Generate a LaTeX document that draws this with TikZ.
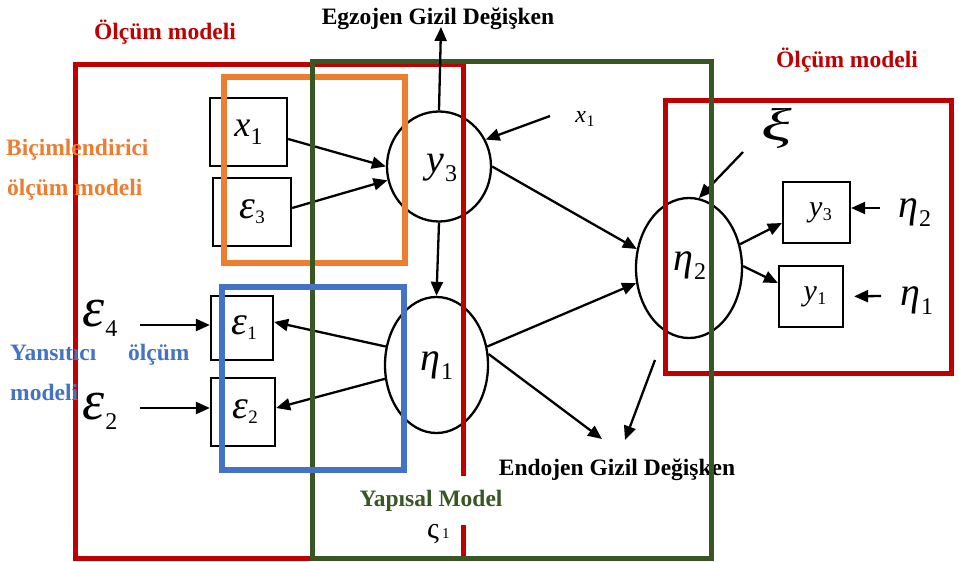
\documentclass[tikz,border=0pt]{standalone}
\usepackage{fontspec}
\usepackage{graphicx}
\setmainfont{Liberation Serif}
\usetikzlibrary{arrows.meta,shapes.geometric}

\definecolor{mred}{HTML}{C00000}
\definecolor{mgreen}{HTML}{385723}
\definecolor{morange}{HTML}{ED7D31}
\definecolor{mblue}{HTML}{4472C4}

% italic symbol with an upright, lowered subscript:
% #1 base size, #2 subscript size, #3 symbol, #4 subscript, #5 drop
\newcommand\symlab[5]{{\fontsize{#1}{#1}\selectfont\textit{#3}}\kern0.5pt\raisebox{-#5}{\fontsize{#2}{#2}\selectfont #4}}

\begin{document}
\begin{tikzpicture}[x=1pt,y=-1pt,
  obsbox/.style={draw, rectangle, line width=2.3pt, inner sep=0pt},
  latent/.style={draw, ellipse, line width=2.3pt, inner sep=0pt},
  arr/.style={-{Triangle[length=14pt,width=12pt]}, line width=2.3pt},
  frame/.style={line width=5pt},
  thickframe/.style={line width=6pt},
  title/.style={font=\fontsize{23.5}{28}\selectfont\bfseries, inner sep=0pt},
  sym/.style={inner sep=0pt}]
\useasboundingbox (0,0) rectangle (959,562);

% latent variables
\node[latent, minimum width=104pt, minimum height=110pt] (y3) at (439,166.5) {};
\node[latent, minimum width=103pt, minimum height=136pt] (eta1) at (436.5,365) {};
\node[latent, minimum width=106pt, minimum height=140pt] (eta2) at (689,268) {};
\node[sym] at (442,168) {\symlab{40pt}{24pt}{y}{3}{9pt}};
\node[sym] at (437,366) {\symlab{40pt}{24pt}{η}{1}{9pt}};
\node[sym] at (690,266) {\symlab{40pt}{24pt}{η}{2}{9pt}};

% observed indicators
\node[obsbox, minimum width=77pt, minimum height=68pt] (x1box) at (248.5,132) {\symlab{36pt}{24pt}{x}{1}{8pt}};
\node[obsbox, minimum width=78pt, minimum height=68pt] (e3box) at (252,212) {\symlab{40pt}{19pt}{ε}{3}{5pt}};
\node[obsbox, minimum width=62pt, minimum height=64pt] (e1box) at (242,328) {\hspace*{4pt}\symlab{40pt}{19pt}{ε}{1}{5pt}};
\node[obsbox, minimum width=64pt, minimum height=68pt] (e2box) at (243,412) {\hspace*{4pt}\symlab{40pt}{19pt}{ε}{2}{5pt}};
\node[obsbox, minimum width=67pt, minimum height=61pt] (y3box) at (816.5,212.5) {\hspace*{8pt}\symlab{30pt}{18pt}{y}{3}{4pt}};
\node[obsbox, minimum width=64pt, minimum height=61pt] (y1box) at (811,296.5) {\hspace*{8pt}\symlab{30pt}{18pt}{y}{1}{4pt}};

% error and exogenous symbols
\node[sym] (x1lab) at (585,119) {\symlab{24pt}{16pt}{x}{1}{4pt}};
\node[sym] (xilab) at (777,128) {\scalebox{1.55}[1]{\fontsize{46pt}{46pt}\selectfont\textit{ξ}}};
\node[sym] (eps4lab) at (100,318) {\symlab{56pt}{24pt}{ε}{4}{10pt}};
\node[sym] (eps2lab) at (100,411) {\symlab{56pt}{24pt}{ε}{2}{10pt}};
\node[sym] (eta2lab) at (915,213) {\symlab{40pt}{24pt}{η}{2}{9pt}};
\node[sym] (eta1lab) at (917,301) {\symlab{40pt}{24pt}{η}{1}{9pt}};

% free ends of connectors
\coordinate (egz) at (441,27);
\coordinate (x1src) at (550,116);
\coordinate (e4src) at (140,325);
\coordinate (e2src) at (140,408);
\coordinate (endoA) at (602,439);
\coordinate (endoSrc) at (655,360);
\coordinate (endoB) at (625,440);
\coordinate (xisrc) at (743,152);
\coordinate (eta2src) at (880,208);
\coordinate (eta1src) at (881,296);

% paths
\draw[arr] ([yshift=-7pt]x1box.east) -- (y3.west);
\draw[arr] ([yshift=4pt]e3box.east) -- (y3.195);
\draw[arr] (x1src) -- (y3.30);
\draw[arr] (y3.east) -- (eta2.160);
\draw[arr] (y3.south) -- (eta1.north);
\draw[arr] (eta1.160) -- ([yshift=6pt]e1box.east);
\draw[arr] (eta1.195) -- ([yshift=4pt]e2box.east);
\draw[arr] (e4src) -- ([yshift=3pt]e1box.west);
\draw[arr] (e2src) -- ([yshift=4pt]e2box.west);
\draw[arr] (eta1.20) -- (eta2.196);
\draw[arr] (eta1.12) -- (endoA);
\draw[arr] (endoSrc) -- (endoB);
\draw[arr] (xisrc) -- (eta2.82);
\draw[arr] (eta2.25) -- ([yshift=-10.5pt]y3box.west);
\draw[arr] (eta2.2) -- ([yshift=13.5pt]y1box.west);
\draw[arr] (eta2src) -- ([yshift=4.5pt]y3box.east);
\draw[arr, shorten >=10pt] (eta1src) -- (y1box.east);

% measurement model frames
\draw[frame, mred] (75,64.5) rectangle (463,558);
\draw[frame, mred] (665.5,100.5) rectangle (951,373.5);
\draw[thickframe, morange] (223.5,76.5) rectangle (405,262.5);

\node[title, anchor=base] (endo) at (617,475) {Endojen Gizil Değişken};

% structural model frame
\draw[frame, mgreen] (312.5,61) rectangle (711.5,558);
\draw[thickframe, mblue] (221.5,286.5) rectangle (403.5,469.5);

\draw[arr] (y3.north) -- (egz);

% titles
\node[title, anchor=base, text=mred] (omL) at (165,39) {Ölçüm modeli};
\node[title, anchor=base, text=mred] (omR) at (847,67) {Ölçüm modeli};
\node[title, anchor=base] (egzlab) at (438,24) {Egzojen Gizil Değişken};
\node[title, anchor=base west, text=morange] (bic1) at (6,155) {Biçimlendirici};
\node[title, anchor=base west, text=morange] (bic2) at (7,195) {ölçüm modeli};
\node[title, anchor=base west, text=mblue] (yan1) at (10,360) {Yansıtıcı};
\node[title, anchor=base west, text=mblue] (yan2) at (128,360) {ölçüm};
\node[title, anchor=base west, text=mblue] (yan3) at (10,400) {modeli};
\node[title, text=mgreen, fill=white, inner xsep=2pt, minimum height=49pt] (yap) at (431,500.5) {\raisebox{-3pt}{Yapısal Model}};
\node[sym, anchor=base west] (zeta) at (427,538) {{\fontsize{30pt}{30pt}\selectfont ς}\kern3pt{\fontsize{15pt}{15pt}\selectfont 1}};
\end{tikzpicture}
\end{document}
